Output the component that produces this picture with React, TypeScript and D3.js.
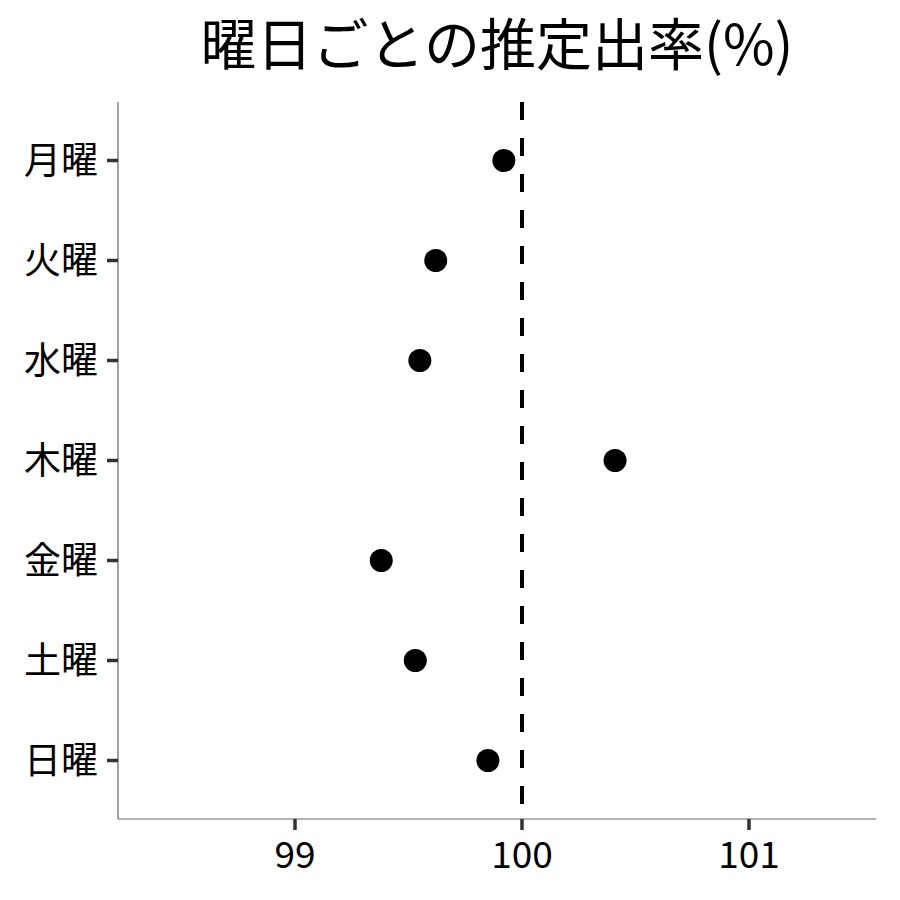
import React, { useEffect, useRef } from 'react';
import * as d3 from 'd3';

// 曜日ごとの推定値
const days = ['月曜', '火曜', '水曜', '木曜', '金曜', '土曜', '日曜'];
const rates = [99.92, 99.62, 99.55, 100.41, 99.38, 99.53, 99.85];
const xTicks = [99, 100, 101];
const refValue = 100;
const title = '曜日ごとの推定出率(%)';

const App = () => {
  const ref = useRef<SVGSVGElement>(null);

  useEffect(() => {
    const svg = d3.select(ref.current);
    svg.selectAll('*').remove();

    const width = 900;
    const height = 900;
    const left = 118, right = 876, top = 102, bottom = 819;
    const font = '"Noto Sans CJK JP", "Noto Sans", sans-serif';

    const x = d3.scaleLinear().domain([98.2203, 101.5595]).range([left, right]);
    const y = d3.scalePoint().domain(days).range([top, bottom]).padding(0.585);

    svg.attr('width', width).attr('height', height);
    svg.append('rect').attr('width', width).attr('height', height).attr('fill', '#fff');

    // title
    svg.append('text')
      .attr('x', (left + right) / 2)
      .attr('y', 65)
      .attr('text-anchor', 'middle')
      .attr('font-family', font)
      .attr('font-size', 56)
      .attr('fill', '#000')
      .text(title);

    // axes lines
    svg.append('line')
      .attr('x1', left).attr('x2', left).attr('y1', top).attr('y2', bottom)
      .attr('stroke', '#666').attr('stroke-width', 1.2);
    svg.append('line')
      .attr('x1', left).attr('x2', right).attr('y1', bottom).attr('y2', bottom)
      .attr('stroke', '#666').attr('stroke-width', 1.2);

    // y ticks + labels
    const yg = svg.append('g');
    days.forEach((d) => {
      const yy = y(d)!;
      yg.append('line')
        .attr('x1', left - 11).attr('x2', left).attr('y1', yy).attr('y2', yy)
        .attr('stroke', '#333').attr('stroke-width', 3.5);
      yg.append('text')
        .attr('x', left - 20)
        .attr('y', yy)
        .attr('dy', '0.36em')
        .attr('text-anchor', 'end')
        .attr('font-family', font)
        .attr('font-size', 37)
        .attr('fill', '#000')
        .text(d);
    });

    // x ticks + labels
    const xg = svg.append('g');
    xTicks.forEach((t) => {
      const xx = x(t);
      xg.append('line')
        .attr('x1', xx).attr('x2', xx).attr('y1', bottom).attr('y2', bottom + 11)
        .attr('stroke', '#333').attr('stroke-width', 3.5);
      xg.append('text')
        .attr('x', xx)
        .attr('y', 868)
        .attr('text-anchor', 'middle')
        .attr('font-family', font)
        .attr('font-size', 37)
        .attr('fill', '#000')
        .text(t);
    });

    // reference line
    svg.append('line')
      .attr('x1', x(refValue)).attr('x2', x(refValue))
      .attr('y1', top).attr('y2', bottom)
      .attr('stroke', '#000').attr('stroke-width', 4)
      .attr('stroke-dasharray', '18,18');

    // points
    svg.selectAll('circle.pt')
      .data(days.map((d, i) => ({ day: d, value: rates[i] })))
      .join('circle')
      .attr('class', 'pt')
      .attr('cx', (d) => x(d.value))
      .attr('cy', (d) => y(d.day)!)
      .attr('r', 11.5)
      .attr('fill', '#000');
  }, []);

  return (
    <div style={{ margin: -8 }}>
      <svg ref={ref} style={{ display: 'block' }} />
    </div>
  );
};

export default App;
